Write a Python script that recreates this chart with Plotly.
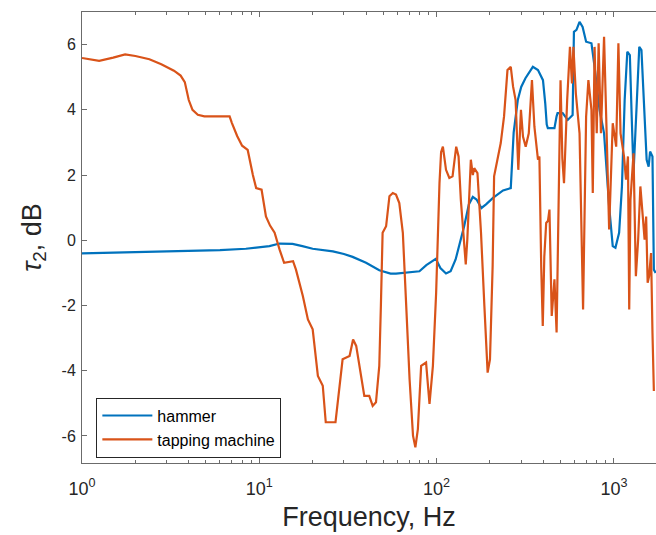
import plotly.graph_objects as go
import numpy as np

# ---------------- data ----------------
hammer_freq = [1, 2, 3.55, 6, 8.4, 10, 11.4, 13, 15.4, 17.5, 20, 26, 30, 33.6, 40, 47.5, 55, 59, 70, 80,
               87.5, 99, 105, 113, 120, 128, 143, 152, 160, 168, 179, 190, 208, 237, 262, 266, 272, 287,
               300, 317, 349, 373, 390, 398, 410, 418, 424, 462, 475, 481, 514, 549, 585, 595, 615, 640,
               666, 697, 747, 778, 830, 880, 940, 985, 1020, 1070, 1110, 1150, 1190, 1230, 1260, 1290,
               1340, 1390, 1430, 1490, 1530, 1570, 1600, 1650, 1680, 1720]
hammer_val = [-0.40, -0.37, -0.34, -0.30, -0.26, -0.22, -0.18, -0.10, -0.11, -0.18, -0.26, -0.34, -0.42,
              -0.51, -0.69, -0.92, -1.02, -1.02, -0.98, -0.95, -0.76, -0.57, -0.85, -1.02, -0.95, -0.59,
              0.43, 1.10, 1.33, 1.25, 0.99, 1.10, 1.30, 1.53, 1.60, 2.40, 3.30, 4.30, 4.70, 4.97, 5.32,
              5.22, 5.00, 4.91, 4.20, 3.55, 3.44, 3.44, 3.80, 3.90, 3.90, 3.69, 3.84, 6.39, 6.45, 6.70,
              6.54, 6.09, 6.04, 5.32, 4.00, 3.28, 1.04, -0.18, -0.23, 0.23, 1.65, 4.30, 5.78, 5.68, 3.79,
              2.06, 4.00, 5.93, 5.83, 3.79, 2.47, 2.26, 2.72, 2.57, -0.90, -1.00]

tap_freq = [1, 1.12, 1.25, 1.5, 1.75, 2.0, 2.4, 2.8, 3.3, 3.6, 3.8, 4.0, 4.2, 4.5, 4.9, 6.0, 6.8, 7.0, 7.5,
            8.0, 8.6, 9.2, 9.6, 10.3, 10.9, 11.5, 12.2, 13.0, 13.8, 15.5, 16.1, 17.6, 18.8, 20.0, 21.4,
            22.8, 23.7, 26.9, 28.3, 29.5, 32.3, 33.8, 35.2, 37.6, 39.1, 41.7, 43.6, 45.5, 47.5, 48.5,
            49.6, 51.9, 54.2, 56.6, 59, 61.6, 64.5, 67.4, 70.4, 73.6, 75.9, 78.4, 81.8, 87.2, 91.2, 95.3,
            99.4, 103.8, 106, 108.5, 113, 118, 123, 129, 133, 137, 143, 146, 149, 153, 156, 160, 163,
            170, 178, 186, 194, 200, 207, 211, 220, 230, 240, 251, 262, 270, 279, 289, 299, 307, 318,
            331, 345, 356, 373, 380, 389, 397, 405, 415, 425, 433, 446, 462, 475, 490, 500, 512, 523,
            545, 565, 580, 591, 610, 640, 670, 697, 718, 747, 760, 778, 800, 820, 845, 880, 910, 940,
            985, 1030, 1060, 1090, 1140, 1170, 1200, 1220, 1240, 1290, 1330, 1370, 1410, 1490, 1520,
            1550, 1580, 1620, 1650, 1680]
tap_val = [5.59, 5.55, 5.50, 5.60, 5.70, 5.65, 5.55, 5.40, 5.20, 5.05, 4.85, 4.30, 4.00, 3.85, 3.80, 3.80,
           3.80, 3.60, 3.20, 2.90, 2.77, 2.00, 1.60, 1.55, 0.73, 0.45, 0.23, -0.28, -0.69, -0.64, -0.90,
           -1.71, -2.43, -2.73, -4.16, -4.46, -5.58, -5.58, -4.57, -3.65, -3.55, -3.04, -3.24, -4.26,
           -4.77, -4.77, -5.08, -4.97, -3.85, -2.00, 0.23, 0.43, 1.35, 1.45, 1.40, 1.14, 0.23, -2.02,
           -4.26, -5.99, -6.35, -5.79, -3.85, -3.75, -5.02, -3.85, -1.61, 1.75, 2.70, 2.87, 2.16, 1.91,
           1.96, 2.87, 2.57, 1.24, -0.08, -0.74, 0.02, 1.24, 2.47, 2.00, 2.21, 2.06, 0.23, -2.02, -4.06,
           -3.65, -0.80, 1.96, 2.47, 2.98, 3.79, 5.22, 5.32, 4.71, 4.30, 2.16, 4.00, 3.18, 2.87, 3.28,
           4.91, 3.49, 2.47, 2.57, -0.80, -2.63, -0.50, 0.53, 0.60, 0.94, -2.32, -1.20, -2.83, 1.75,
           4.91, 2.50, 1.75, 4.30, 5.93, 4.81, 5.93, 4.50, 3.28, -2.12, 3.79, 4.91, 4.00, 1.45, 5.93,
           3.28, 6.04, 3.28, 6.24, 3.28, 0.33, 3.59, 2.87, 6.04, 3.28, 2.57, 1.86, 2.57, -2.12, 1.24,
           2.67, -1.10, 0.02, 1.65, 0.02, 0.73, -1.30, -1.10, -0.39, -2.83, -4.62]

y_ticks = [-6, -4, -2, 0, 2, 4, 6]
x_ticks = [1, 10, 100, 1000]
x_ticktext = ["10<sup>0</sup>", "10<sup>1</sup>", "10<sup>2</sup>", "10<sup>3</sup>"]
x_minor = [m * d for d in [1, 10, 100, 1000] for m in range(2, 10) if m * d < 1750]

BLUE = "#0072BD"
ORANGE = "#D95319"
AX = "#262626"
LINE = "#6b6b6b"
FONT = "Liberation Sans, Arial, Helvetica, sans-serif"

fig = go.Figure()
fig.add_trace(go.Scatter(x=hammer_freq, y=hammer_val, mode="lines", name="hammer",
                         line=dict(color=BLUE, width=2.2)))
fig.add_trace(go.Scatter(x=tap_freq, y=tap_val, mode="lines", name="tapping machine",
                         line=dict(color=ORANGE, width=2.2)))

fig.update_layout(
    width=656, height=535,
    margin=dict(l=82, r=0, t=12, b=72),
    paper_bgcolor="white", plot_bgcolor="white",
    font=dict(family=FONT, color=AX, size=15),
    showlegend=True,
    legend=dict(x=0.025, y=0.145, xanchor="left", yanchor="top",
                bordercolor=AX, borderwidth=1, bgcolor="white",
                font=dict(size=16, color="black"), tracegroupgap=0,
                itemwidth=50),
)
fig.update_xaxes(
    type="log", range=[0, 3.2374],
    tickmode="array", tickvals=x_ticks, ticktext=x_ticktext,
    ticks="inside", ticklen=5, tickcolor=LINE, tickwidth=1,
    showline=True, linecolor=LINE, linewidth=1, mirror="ticks",
    showgrid=False, zeroline=False,
    tickfont=dict(size=18, color=AX),
    ticklabelstandoff=9,
    minor=dict(ticks="inside", ticklen=3, tickcolor=LINE, tickmode="array",
               tickvals=x_minor, showgrid=False),
    title=dict(text="Frequency, Hz", font=dict(size=27, color=AX), standoff=9),
)
fig.update_yaxes(
    range=[-6.83, 7.0],
    tickmode="array", tickvals=y_ticks, ticktext=[str(v) for v in y_ticks],
    ticks="inside", ticklen=5, tickcolor=LINE, tickwidth=1,
    showline=True, linecolor=LINE, linewidth=1, mirror=False,
    showgrid=False, zeroline=False,
    tickfont=dict(size=16, color=AX),
    ticklabelstandoff=2,
    title=dict(text="<i>τ</i><sub>2</sub>, dB", font=dict(size=27, color=AX), standoff=12),
)

fig.write_html("out.html")
